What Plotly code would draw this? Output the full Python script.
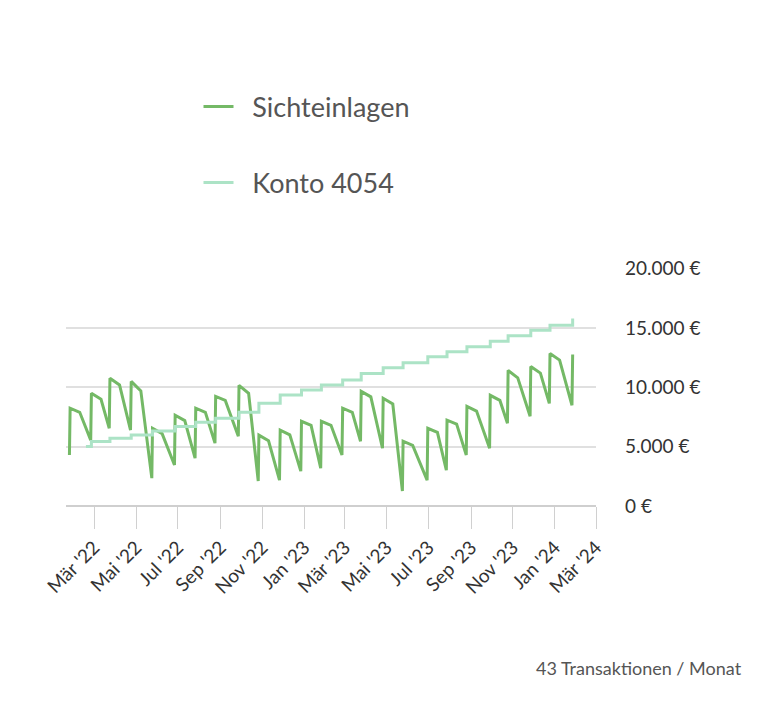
import plotly.graph_objects as go
from datetime import date, timedelta

# Sichteinlagen: monthly segments (jump date, peak, mid, trough before next jump)
start_date = "2022-01-24"
start_value = 4300
jump_dates = ["2022-01-25", "2022-02-25", "2022-03-24", "2022-04-24", "2022-05-25", "2022-06-27",
              "2022-07-27", "2022-08-25", "2022-09-28", "2022-10-27", "2022-11-27", "2022-12-28",
              "2023-01-26", "2023-02-26", "2023-03-25", "2023-04-26", "2023-05-25", "2023-06-30",
              "2023-07-28", "2023-08-26", "2023-09-29", "2023-10-25", "2023-11-27", "2023-12-25",
              "2024-01-27"]
peaks = [8240, 9500, 10760, 10500, 6550, 7650, 8240, 9240, 10170, 5970, 6390, 7140,
         7140, 8240, 9660, 9075, 5460, 6550, 7230, 8400, 9330, 11430, 11760, 12860, 12770]
mids = [7900, 9000, 10200, 9700, 6100, 7200, 7900, 8900, 9500, 5500, 6000, 6800,
        6800, 7900, 9200, 8600, 5100, 6200, 6900, 8000, 8900, 10800, 11200, 12300]
troughs = [5550, 6550, 6400, 2350, 3450, 4030, 5300, 5880, 2100, 2180, 2940, 3190,
           4290, 5460, 4870, 1260, 2180, 3020, 4290, 4870, 6970, 7560, 8650, 8490]

# Konto 4054 step values
konto_dates = ["2022-02-17"] + jump_dates[1:]
konto_values = [5013, 5433, 5714, 5994, 6330, 6694, 7059, 7395, 7899, 8650, 9356, 9776,
                10196, 10616, 11176, 11652, 12072, 12576, 12996, 13416, 13892, 14340, 14816, 15236, 15800]

def d(s):
    return date.fromisoformat(s)

sx, sy = [start_date], [start_value]
for i, jd in enumerate(jump_dates):
    sx.append(jd); sy.append(peaks[i])
    if i < len(mids):
        sx.append((d(jd) + timedelta(days=14)).isoformat()); sy.append(mids[i])
        nxt = d(jump_dates[i + 1]) - timedelta(days=1)
        sx.append(nxt.isoformat()); sy.append(troughs[i])

tickvals = ["2022-03-01", "2022-05-01", "2022-07-01", "2022-09-01", "2022-11-01", "2023-01-01",
            "2023-03-01", "2023-05-01", "2023-07-01", "2023-09-01", "2023-11-01", "2024-01-01", "2024-03-01"]
ticktext = ["Mär '22", "Mai '22", "Jul '22", "Sep '22", "Nov '22", "Jan '23", "Mär '23",
            "Mai '23", "Jul '23", "Sep '23", "Nov '23", "Jan '24", "Mär '24"]
ytickvals = [0, 5000, 10000, 15000, 20000]
yticktext = ["0 €", "5.000 €", "10.000 €", "15.000 €", "20.000 €"]

fig = go.Figure()
fig.add_trace(go.Scatter(x=sx, y=sy, mode="lines", name="  Sichteinlagen", legendgroup="a",
                         line=dict(color="#74b966", width=3)))
fig.add_trace(go.Scatter(x=konto_dates, y=konto_values, mode="lines", name="  Konto 4054", legendgroup="b",
                         line=dict(color="#ace3c6", width=3, shape="hv")))

fig.update_layout(
    width=777, height=716, paper_bgcolor="white", plot_bgcolor="white",
    margin=dict(l=58, r=189, t=260, b=218),
    font=dict(family="Lato", color="#333"),
    legend=dict(x=0.25, y=1.78, xanchor="left", yanchor="top", font=dict(size=27, color="#555"),
                tracegroupgap=38, traceorder="grouped", itemwidth=30),
    xaxis=dict(range=["2022-01-19", "2024-03-01"], tickvals=tickvals, ticktext=ticktext,
               tickangle=-45, tickfont=dict(size=19, color="#333"), showgrid=False, automargin=False,
               ticks="outside", ticklen=22, tickcolor="#d0d0d0", showline=False, zeroline=False),
    yaxis=dict(range=[0, 20060], side="right", tickvals=ytickvals, ticktext=yticktext, automargin=False,
               tickfont=dict(size=19, color="#333"), gridcolor="#e0e0e0", gridwidth=1.5,
               zeroline=True, zerolinecolor="#cfcfcf", zerolinewidth=2, ticklabelstandoff=28),
    annotations=[dict(text="43 Transaktionen / Monat", xref="paper", yref="paper", x=(736 - 58) / 530,
                      y=(498 - 660) / 238, xanchor="right", yanchor="middle", showarrow=False,
                      font=dict(size=18, color="#555"))],
)
fig.write_html("out.html")
